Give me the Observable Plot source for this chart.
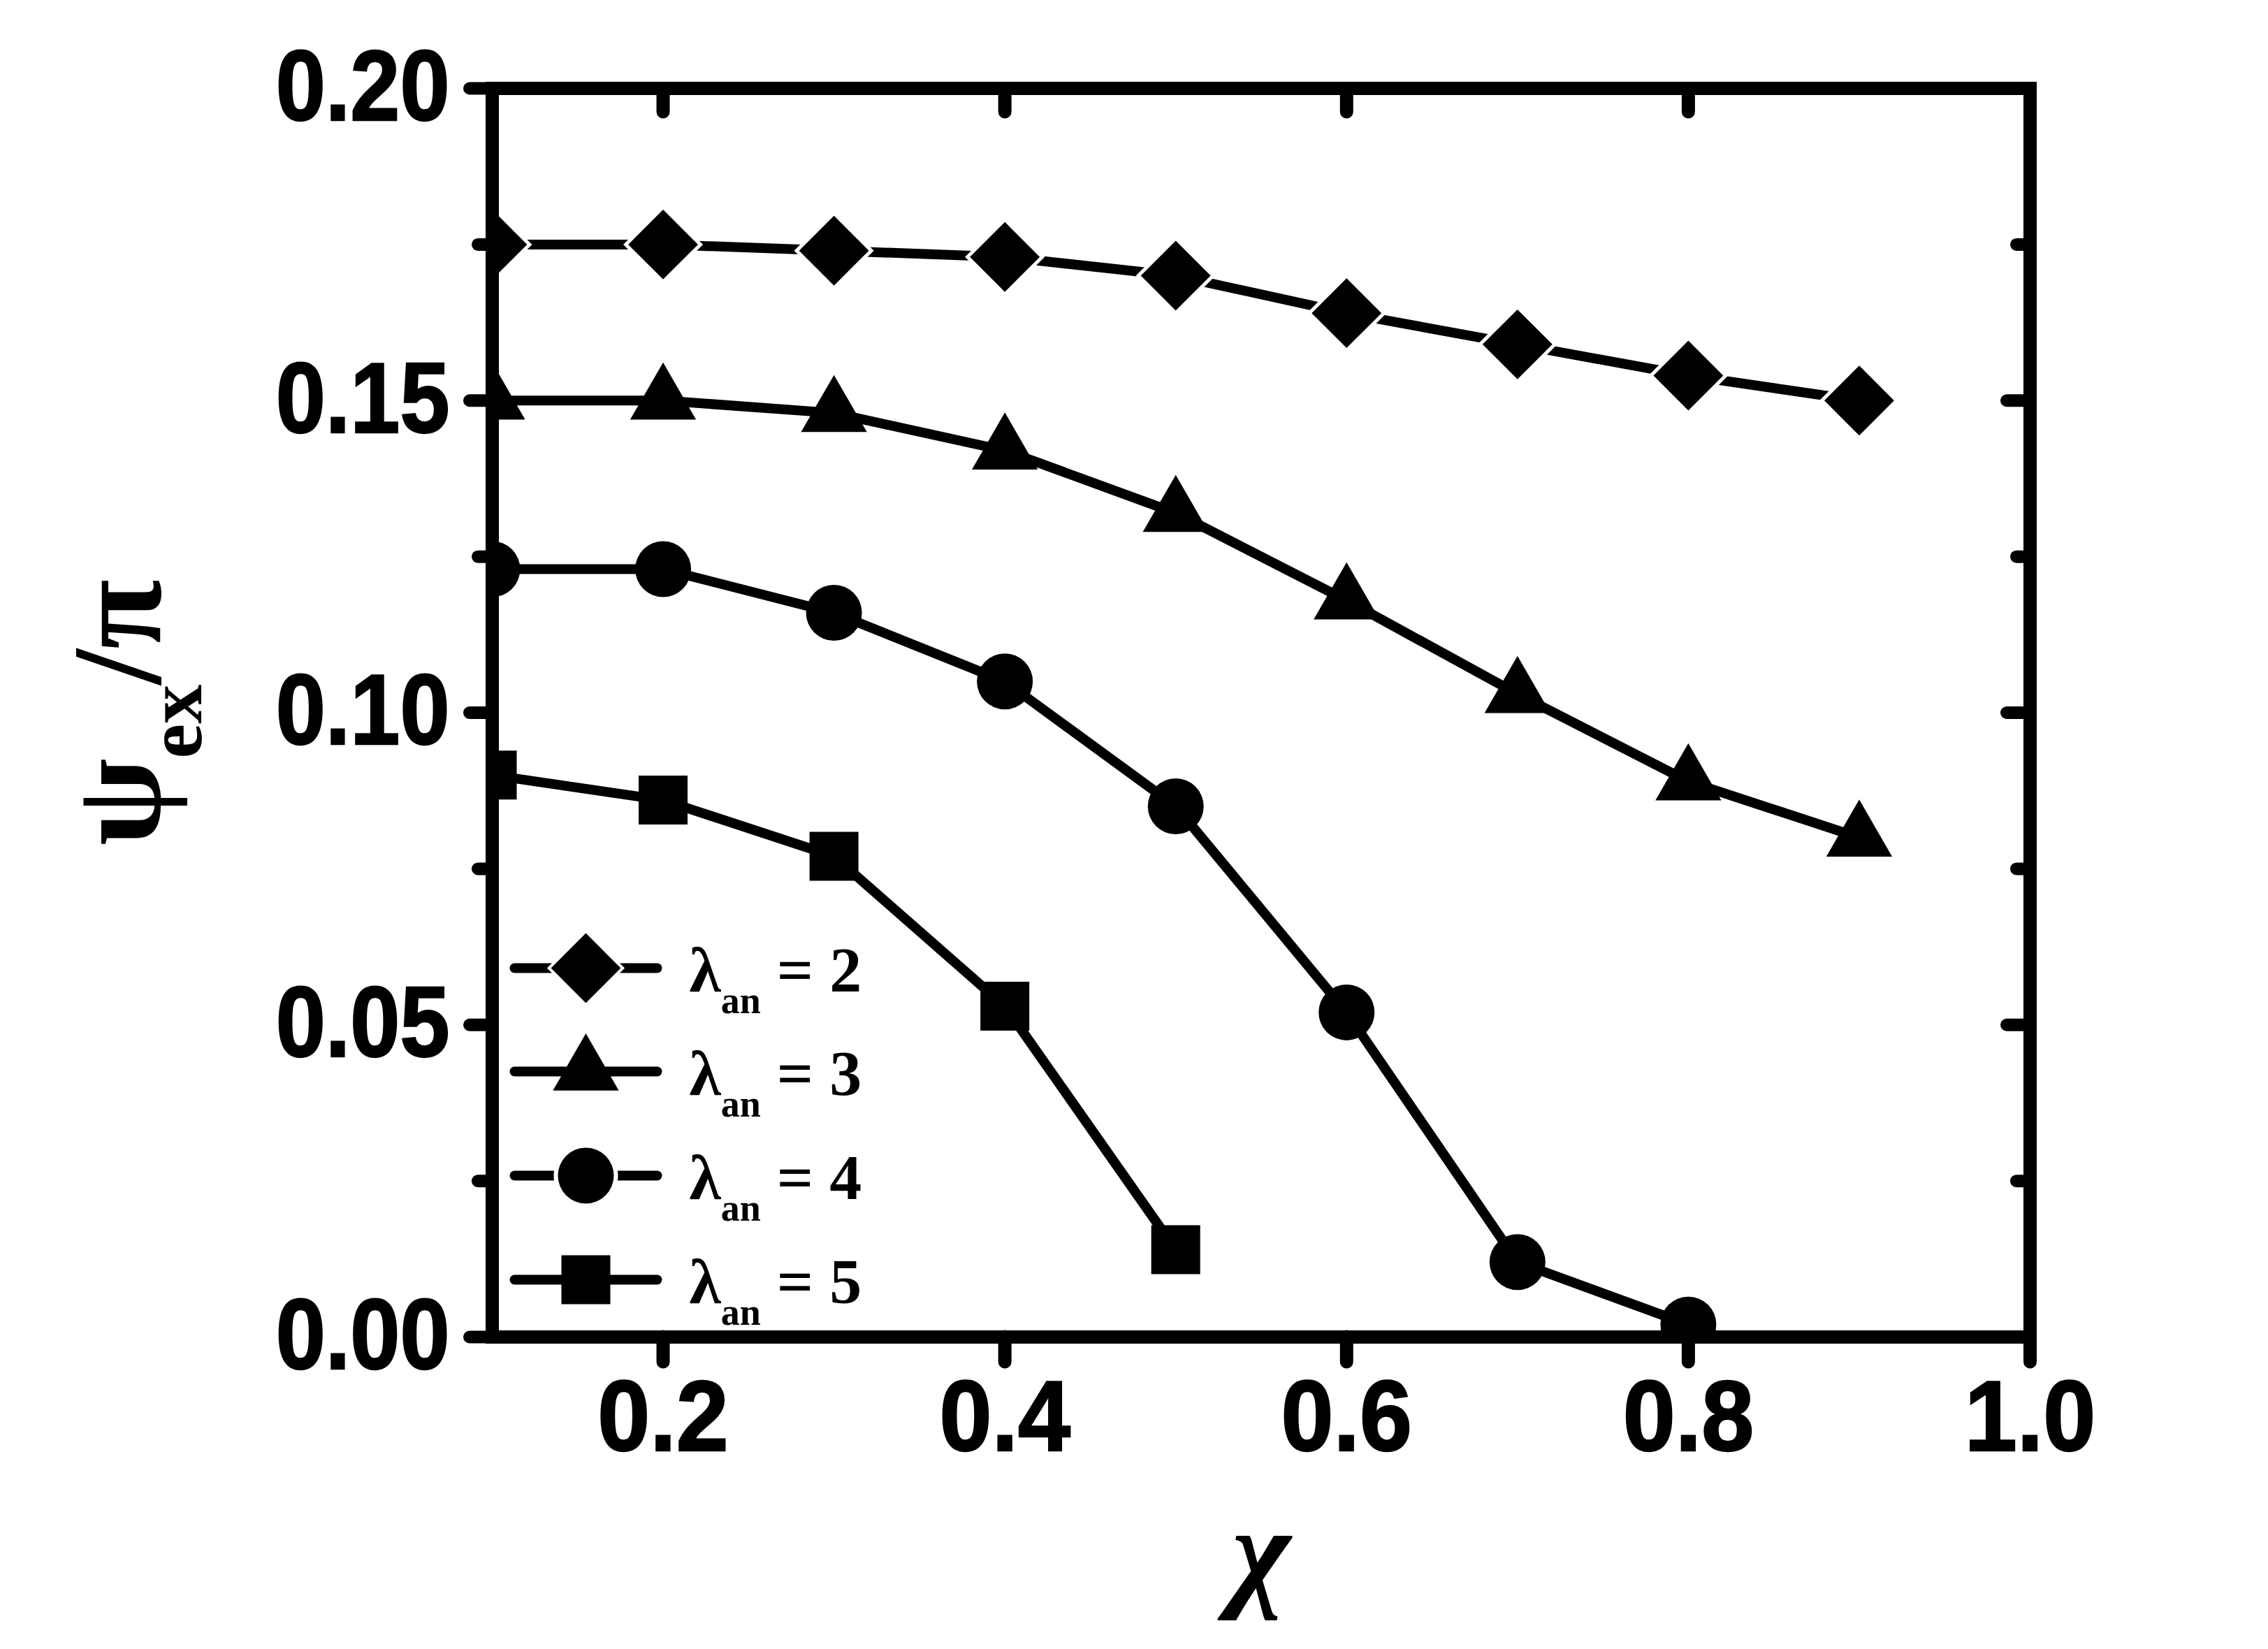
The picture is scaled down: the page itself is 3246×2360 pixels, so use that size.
<!DOCTYPE html>
<html><head><meta charset="utf-8">
<script src="https://cdn.jsdelivr.net/npm/d3@7"></script>
<script src="https://cdn.jsdelivr.net/npm/@observablehq/plot@0.6"></script>
<style>html,body{margin:0;padding:0;background:#fff}</style>
</head><body><div id="chart"></div>
<script>
// ---- data ----
const chi = [0.1, 0.2, 0.3, 0.4, 0.5, 0.6, 0.7, 0.8, 0.9];
const psiLambda2 = [0.175, 0.175, 0.174, 0.173, 0.170, 0.164, 0.159, 0.154, 0.150];
const psiLambda3 = [0.150, 0.150, 0.148, 0.142, 0.132, 0.118, 0.103, 0.089, 0.080];
const psiLambda4 = [0.123, 0.123, 0.116, 0.105, 0.085, 0.052, 0.012, 0.002];
const psiLambda5 = [0.090, 0.086, 0.077, 0.053, 0.014];
const lambdaValues = [2, 3, 4, 5];
const xTicks = [0.2, 0.4, 0.6, 0.8, 1.0];
const xTopTicks = [0.2, 0.4, 0.6, 0.8];
const yTicksMajor = [0.00, 0.05, 0.10, 0.15, 0.20];
const yTicksMinor = [0.025, 0.075, 0.125, 0.175];
const yRightMajor = [0.05, 0.10, 0.15];
const xTitle = "χ";
const yTitleParts = ["ψ", "ex", "/π"];
const legendSymbolText = "λ";
const legendSubText = "an";

// ---- styles ----
const symbols = ["diamond2", "triangle", "circle", "square"];
const radii = [45, 35, 40, 39.5];
const gapStroke = [10, 0, 0, 0];
const legendGap = [8, 0, 12, 0];
const sansBold = "'Liberation Sans', Arial, 'DejaVu Sans Condensed', sans-serif";
const serif = "'Liberation Serif', 'Times New Roman', serif";

const allSeries = [psiLambda2, psiLambda3, psiLambda4, psiLambda5];
const rows = allSeries.flatMap((vals, i) =>
  vals.map((v, j) => ({x: chi[j], y: v, series: i})));

const lineSymbol = {draw(ctx, size) { const r = Math.sqrt(size / Math.PI); ctx.moveTo(-r, 0); ctx.lineTo(r, 0); }};

const legendRowDy = [-528, -380, -231, -82];
const legendMarks = lambdaValues.flatMap((lam, i) => [
  Plot.dot([0], {frameAnchor: "bottom-left", dx: 134, dy: legendRowDy[i], symbol: lineSymbol, r: 102,
    fill: "none", stroke: "black", strokeWidth: 14, strokeLinecap: "round"}),
  Plot.dot([0], {frameAnchor: "bottom-left", dx: 134, dy: legendRowDy[i], symbol: symbols[i], r: radii[i],
    fill: "black", stroke: legendGap[i] ? "white" : "none", strokeWidth: legendGap[i], paintOrder: "stroke"}),
  Plot.text([`${legendSymbolText}${legendSubText} = ${lam}`], {frameAnchor: "bottom-left", dx: 282, dy: legendRowDy[i] + 33,
    text: d => d, textAnchor: "start", lineAnchor: "bottom", fontSize: 92, fontFamily: serif, fontWeight: "bold", fill: "black"})
]);

const yTitleString = yTitleParts.join("");

const chart = Plot.plot({
  width: 3246, height: 2360,
  marginLeft: 704, marginRight: 341, marginTop: 126, marginBottom: 447,
  x: {domain: [0.1, 1.0]},
  y: {domain: [0, 0.2]},
  style: {background: "white", color: "black", overflow: "visible"},
  marks: [
    Plot.line(rows, {x: "x", y: "y", z: "series", stroke: "black", strokeWidth: 14,
      strokeLinecap: "round", strokeLinejoin: "round", clip: true}),
    ...symbols.map((s, i) => Plot.dot(rows.filter(d => d.series === i), {x: "x", y: "y", symbol: s, r: radii[i],
      fill: "black", stroke: gapStroke[i] ? "white" : "none", strokeWidth: gapStroke[i], paintOrder: "stroke", clip: true})),
    ...legendMarks,
    Plot.frame({stroke: "black", strokeWidth: 19}),
    Plot.axisY(yTicksMajor, {anchor: "left", tickSize: 32, tickPadding: 29, strokeWidth: 18, strokeLinecap: "round",
      tickFormat: d3.format(".2f"), fontSize: 142, fontFamily: sansBold, fontWeight: "bold", label: null}),
    Plot.axisY(yTicksMinor, {anchor: "left", tickSize: 20, strokeWidth: 18, strokeLinecap: "round", fill: "none", tickFormat: () => "", label: null}),
    Plot.axisY(yRightMajor, {anchor: "right", tickSize: -34, strokeWidth: 18, strokeLinecap: "round", fill: "none", tickFormat: () => "", label: null}),
    Plot.axisY(yTicksMinor, {anchor: "right", tickSize: -20, strokeWidth: 18, strokeLinecap: "round", fill: "none", tickFormat: () => "", label: null}),
    Plot.axisX(xTicks, {anchor: "bottom", tickSize: 36, tickPadding: 26, strokeWidth: 19, strokeLinecap: "round",
      tickFormat: d3.format(".1f"), fontSize: 142, fontFamily: sansBold, fontWeight: "bold", label: null}),
    Plot.axisX(xTopTicks, {anchor: "top", tickSize: -33, strokeWidth: 19, strokeLinecap: "round", fill: "none", tickFormat: () => "", label: null}),
    Plot.text([xTitle], {frameAnchor: "bottom", dy: 367, lineAnchor: "bottom", text: d => d, fontSize: 180,
      fontFamily: serif, fontWeight: "bold", fontStyle: "italic", fill: "black"}),
    Plot.text([yTitleString], {frameAnchor: "left", dx: -476, rotate: -90, textAnchor: "middle", lineAnchor: "bottom",
      text: d => d, fontSize: 182, fontFamily: serif, fontWeight: "bold", fill: "black"})
  ]
});
document.getElementById("chart").appendChild(chart);

// slightly condensed, heavy tick labels like the reference
d3.select(chart).selectAll('g[aria-label="y-axis tick label"] text').each(function() {
  const t = this.getAttribute("transform") || "";
  this.setAttribute("transform", t + " scale(0.9,1)");
}).attr("stroke", "black").attr("stroke-width", 2.5);
d3.select(chart).selectAll('g[aria-label="x-axis tick label"] text').each(function() {
  const t = this.getAttribute("transform") || "";
  this.setAttribute("transform", t + " scale(0.95,1)");
}).attr("stroke", "black").attr("stroke-width", 2.5);

// rich text (subscripts) for titles and legend
function rich(el, parts) {
  const sel = d3.select(el);
  sel.text(null).style("white-space", "pre");
  let cur = 0;
  for (const p of parts) {
    const ts = sel.append("tspan").text(p.text).attr("font-size", p.size);
    const dy = p.shift - cur;
    if (dy) ts.attr("dy", dy);
    cur = p.shift;
  }
}
d3.select(chart).selectAll("text").each(function() {
  const t = this.textContent;
  if (t === yTitleString) {
    rich(this, [{text: yTitleParts[0], size: 182, shift: 0}, {text: yTitleParts[1], size: 112, shift: 59}, {text: yTitleParts[2], size: 182, shift: 0}]);
  } else {
    for (const lam of lambdaValues) {
      if (t === `${legendSymbolText}${legendSubText} = ${lam}`) {
        rich(this, [{text: legendSymbolText, size: 92, shift: 0}, {text: legendSubText, size: 54, shift: 31}, {text: ` = ${lam}`, size: 92, shift: 0}]);
      }
    }
  }
});
</script>
</body></html>
